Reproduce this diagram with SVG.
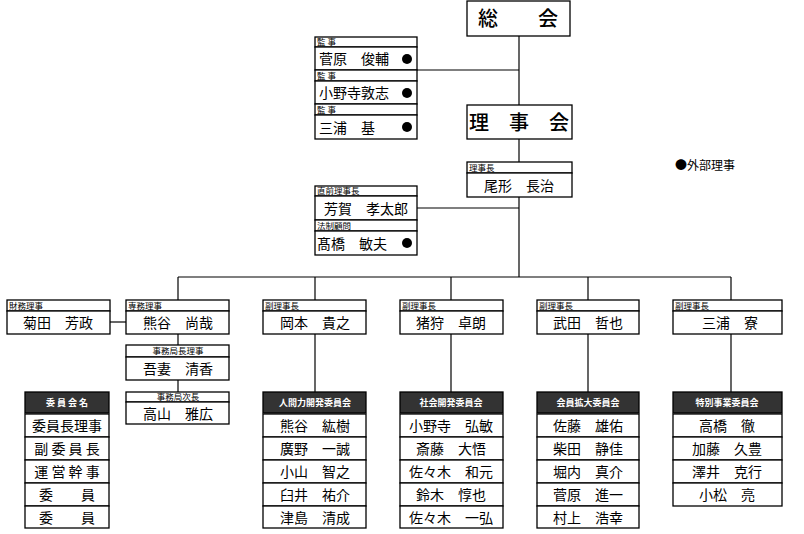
<svg xmlns="http://www.w3.org/2000/svg" width="804" height="534" viewBox="0 0 804 534">
<style>
text{font-family:"Noto Sans CJK JP","Noto Sans CJK SC",sans-serif;fill:#000}
.b{fill:#fff;stroke:#000;stroke-width:1.3}
.d{fill:#333;stroke:#000;stroke-width:1.3}
.h{font-size:8.5px}
.n{font-size:14px;text-anchor:middle}
.t{font-size:20px;text-anchor:middle;font-weight:500}
.w{font-size:9px;fill:#fff;text-anchor:middle;font-weight:bold}
.c line{stroke:#000;stroke-width:1.2}
</style>
<rect width="804" height="534" fill="#fff"/>
<g class="c">
<line x1="519" y1="36" x2="519" y2="277"/>
<line x1="417" y1="70" x2="519" y2="70"/>
<line x1="417" y1="208" x2="519" y2="208"/>
<line x1="178" y1="277" x2="731" y2="277"/>
<line x1="178" y1="277" x2="178" y2="300"/>
<line x1="315" y1="277" x2="315" y2="300"/>
<line x1="451" y1="277" x2="451" y2="300"/>
<line x1="588" y1="277" x2="588" y2="300"/>
<line x1="731" y1="277" x2="731" y2="300"/>
<line x1="110" y1="322" x2="126" y2="322"/>
<line x1="178" y1="334" x2="178" y2="345"/>
<line x1="178" y1="380" x2="178" y2="392"/>
<line x1="315" y1="334" x2="315" y2="392"/>
<line x1="451" y1="334" x2="451" y2="392"/>
<line x1="588" y1="334" x2="588" y2="392"/>
<line x1="731" y1="334" x2="731" y2="392"/>
</g>
<g id="soukai"><rect class="b" x="467" y="1" width="103" height="35"/><text class="t" x="518" y="26">総　　会</text></g>
<g id="rijikai"><rect class="b" x="467" y="105" width="105" height="34"/><text class="t" x="519" y="130">理　事　会</text></g>
<g id="kanji1"><rect class="b" x="315" y="37" width="102" height="10"/><text class="h" x="317" y="45">監 事</text><rect class="b" x="315" y="47" width="102" height="23"/><text x="319" y="64" font-size="14">菅原　俊輔</text><circle cx="407" cy="59" r="5"/></g>
<g id="kanji2"><rect class="b" x="315" y="70" width="102" height="11"/><text class="h" x="317" y="79">監 事</text><rect class="b" x="315" y="81" width="102" height="23"/><text x="319" y="98" font-size="14">小野寺敦志</text><circle cx="407" cy="93" r="5"/></g>
<g id="kanji3"><rect class="b" x="315" y="104" width="102" height="11"/><text class="h" x="317" y="113">監 事</text><rect class="b" x="315" y="115" width="102" height="24"/><text x="319" y="133" font-size="14">三浦　基</text><circle cx="407" cy="127" r="5"/></g>
<g id="rijicho"><rect class="b" x="467" y="162" width="105" height="11"/><text class="h" x="469" y="171">理事長</text><rect class="b" x="467" y="173" width="105" height="24"/><text class="n" x="519" y="191">尾形　長治</text></g>
<g id="zenrijicho"><rect class="b" x="315" y="186" width="102" height="10"/><text class="h" x="317" y="194">直前理事長</text><rect class="b" x="315" y="196" width="102" height="24"/><text class="n" x="366" y="214">芳賀　孝太郎</text></g>
<g id="homu"><rect class="b" x="315" y="220" width="102" height="11"/><text class="h" x="317" y="229">法制顧問</text><rect class="b" x="315" y="231" width="102" height="24"/><text x="317" y="249" font-size="14">髙橋　敏夫</text><circle cx="407" cy="243" r="5"/></g>
<g id="legend"><text x="675" y="170" font-size="12">●外部理事</text></g>
<g id="zaimu"><rect class="b" x="7" y="300" width="103" height="11"/><text class="h" x="9" y="309">財務理事</text><rect class="b" x="7" y="311" width="103" height="23"/><text class="n" x="58" y="328">菊田　芳政</text></g>
<g id="jimu"><rect class="b" x="126" y="300" width="103" height="11"/><text class="h" x="128" y="309">専務理事</text><rect class="b" x="126" y="311" width="103" height="23"/><text class="n" x="178" y="328">熊谷　尚哉</text></g>
<g id="kyokucho"><rect class="b" x="126" y="345" width="103" height="12"/><text class="h" x="178" y="354" text-anchor="middle">事務局長理事</text><rect class="b" x="126" y="357" width="103" height="23"/><text class="n" x="178" y="374">吾妻　清香</text></g>
<g id="jicho"><rect class="b" x="126" y="392" width="103" height="10"/><text class="h" x="178" y="400" text-anchor="middle">事務局次長</text><rect class="b" x="126" y="402" width="103" height="22"/><text class="n" x="178" y="419">高山　雅広</text></g>
<g id="vp1"><rect class="b" x="263" y="300" width="103" height="11"/><text class="h" x="265" y="309">副理事長</text><rect class="b" x="263" y="311" width="103" height="23"/><text class="n" x="315" y="328">岡本　貴之</text></g>
<g id="vp2"><rect class="b" x="400" y="300" width="103" height="11"/><text class="h" x="402" y="309">副理事長</text><rect class="b" x="400" y="311" width="103" height="23"/><text class="n" x="451" y="328">猪狩　卓朗</text></g>
<g id="vp3"><rect class="b" x="537" y="300" width="102" height="11"/><text class="h" x="539" y="309">副理事長</text><rect class="b" x="537" y="311" width="102" height="23"/><text class="n" x="588" y="328">武田　哲也</text></g>
<g id="vp4"><rect class="b" x="673" y="300" width="109" height="11"/><text class="h" x="675" y="309">副理事長</text><rect class="b" x="673" y="311" width="109" height="23"/><text class="n" x="730" y="328">三浦　寮</text></g>
<g id="legendtable">
<rect class="d" x="25" y="392" width="84" height="21"/><text class="w" x="67" y="406">委 員 会 名</text>
<rect class="b" x="25" y="414" width="84" height="23"/><text class="n" x="67" y="431">委員長理事</text>
<rect class="b" x="25" y="437" width="84" height="23"/><text class="n" x="67" y="454">副 委 員 長</text>
<rect class="b" x="25" y="460" width="84" height="23"/><text class="n" x="67" y="477">運 営 幹 事</text>
<rect class="b" x="25" y="483" width="84" height="23"/><text class="n" x="67" y="500">委　　員</text>
<rect class="b" x="25" y="506" width="84" height="22"/><text class="n" x="67" y="523">委　　員</text>
</g>
<g id="c1">
<rect class="d" x="263" y="392" width="103" height="21"/><text class="w" x="315" y="406">人間力開発委員会</text>
<rect class="b" x="263" y="414" width="103" height="23"/><text class="n" x="315" y="431">熊谷　紘樹</text>
<rect class="b" x="263" y="437" width="103" height="23"/><text class="n" x="315" y="454">廣野　一誠</text>
<rect class="b" x="263" y="460" width="103" height="23"/><text class="n" x="315" y="477">小山　智之</text>
<rect class="b" x="263" y="483" width="103" height="23"/><text class="n" x="315" y="500">臼井　祐介</text>
<rect class="b" x="263" y="506" width="103" height="22"/><text class="n" x="315" y="523">津島　清成</text>
</g>
<g id="c2">
<rect class="d" x="400" y="392" width="103" height="21"/><text class="w" x="451" y="406">社会開発委員会</text>
<rect class="b" x="400" y="414" width="103" height="23"/><text class="n" x="451" y="431">小野寺　弘敏</text>
<rect class="b" x="400" y="437" width="103" height="23"/><text class="n" x="451" y="454">斎藤　大悟</text>
<rect class="b" x="400" y="460" width="103" height="23"/><text class="n" x="451" y="477">佐々木　和元</text>
<rect class="b" x="400" y="483" width="103" height="23"/><text class="n" x="451" y="500">鈴木　惇也</text>
<rect class="b" x="400" y="506" width="103" height="22"/><text class="n" x="451" y="523">佐々木　一弘</text>
</g>
<g id="c3">
<rect class="d" x="537" y="392" width="102" height="21"/><text class="w" x="588" y="406">会員拡大委員会</text>
<rect class="b" x="537" y="414" width="102" height="23"/><text class="n" x="588" y="431">佐藤　雄佑</text>
<rect class="b" x="537" y="437" width="102" height="23"/><text class="n" x="588" y="454">柴田　静佳</text>
<rect class="b" x="537" y="460" width="102" height="23"/><text class="n" x="588" y="477">堀内　真介</text>
<rect class="b" x="537" y="483" width="102" height="23"/><text class="n" x="588" y="500">菅原　進一</text>
<rect class="b" x="537" y="506" width="102" height="22"/><text class="n" x="588" y="523">村上　浩幸</text>
</g>
<g id="c4">
<rect class="d" x="673" y="392" width="109" height="21"/><text class="w" x="727" y="406">特別事業委員会</text>
<rect class="b" x="673" y="414" width="109" height="23"/><text class="n" x="727" y="431">高橋　徹</text>
<rect class="b" x="673" y="437" width="109" height="23"/><text class="n" x="727" y="454">加藤　久豊</text>
<rect class="b" x="673" y="460" width="109" height="23"/><text class="n" x="727" y="477">澤井　克行</text>
<rect class="b" x="673" y="483" width="109" height="23"/><text class="n" x="727" y="500">小松　亮</text>
</g>
</svg>
